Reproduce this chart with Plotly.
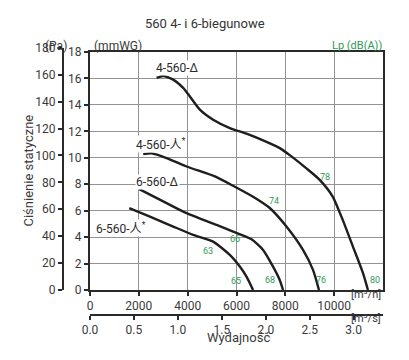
import plotly.graph_objects as go

# ---- data (flow m3/h, static pressure mmWG) ----
q_4d = [2727, 2998, 3407, 3816, 4090, 4499, 5043, 5726, 6409, 7088, 7771, 8180, 8863, 9407, 9939, 10350, 10769, 11178, 11383]
p_4d = [16.04, 16.19, 15.91, 15.28, 14.64, 13.64, 12.88, 12.25, 11.82, 11.31, 10.73, 10.2, 9.2, 8.33, 7.07, 5.3, 3.28, 1.29, 0]

q_4y = [2180, 2524, 3137, 3955, 5182, 5861, 6679, 7362, 8045, 8724, 9133, 9378]
p_4y = [10.28, 10.33, 9.98, 9.34, 8.54, 7.88, 7.05, 6.2, 4.8, 3.03, 1.52, 0]

q_6d = [2016, 3137, 3955, 5182, 5861, 6600, 7088, 7497, 7771, 7906]
p_6d = [7.63, 6.57, 5.81, 4.92, 4.42, 3.85, 3.03, 1.77, 0.76, 0]

q_6y = [1607, 2454, 3407, 4225, 5043, 5726, 6135, 6409, 6680]
p_6y = [6.19, 5.55, 4.80, 4.17, 3.66, 2.65, 1.77, 1.01, 0]

curve_names = ["4-560-Δ", "4-560-人<sup>*</sup>", "6-560-Δ", "6-560-人<sup>*</sup>"]
curve_label_q = [3600, 2904, 2781, 1268]
curve_label_p = [16.8, 11.06, 8.18, 4.7]

lp_values = ["78", "74", "66", "63", "65", "68", "76", "80"]
lp_q = [9612, 7526, 5930, 4844, 5971, 7362, 9480, 11656]
lp_p = [8.54, 6.71, 3.84, 2.95, 0.68, 0.76, 0.76, 0.76]

x_ticks = [0, 2000, 4000, 6000, 8000, 10000]
x2_ticks = [0.0, 0.5, 1.0, 1.5, 2.0, 2.5, 3.0]
y_ticks = [0, 2, 4, 6, 8, 10, 12, 14, 16, 18]
pa_ticks = [0, 20, 40, 60, 80, 100, 120, 140, 160, 180]

FONT = "Roboto, Noto Sans CJK SC, sans-serif"
TXT = "#3a3a3a"
GREEN = "#2e9a55"
GRID = "#939393"
LINE = "#2a2a2a"

fig = go.Figure()
for q, p in [(q_4d, p_4d), (q_4y, p_4y), (q_6d, p_6d), (q_6y, p_6y)]:
    fig.add_trace(go.Scatter(x=q, y=p, mode="lines", line=dict(color="#1e1e1e", width=2.4, shape="spline", smoothing=0.6),
                             hoverinfo="skip", showlegend=False))

# dummy traces so the secondary axes exist
fig.add_trace(go.Scatter(x=[0, 12000 / 3600], y=[None, None], xaxis="x2", yaxis="y", showlegend=False, hoverinfo="skip"))
fig.add_trace(go.Scatter(x=[0, 12000], y=[0, 180], xaxis="x3", yaxis="y2", mode="markers", marker=dict(opacity=0),
                         showlegend=False, hoverinfo="skip"))

W, H = 409, 360


def px_x(x):
    return x / W


def px_y(y):
    return 1 - y / H


xd = [px_x(90), px_x(383)]
yd = [px_y(290), px_y(52)]
yd_pa = [px_y(290), px_y(47.8)]

tickfont = dict(family=FONT, size=12, color=TXT)
common = dict(automargin=False, zeroline=False, tickfont=tickfont, linecolor=LINE, linewidth=2,
              ticks="outside", ticklen=4, tickcolor=LINE, tickwidth=1.5)

fig.update_layout(
    template="none",
    width=W, height=H, margin=dict(l=0, r=0, t=0, b=0, pad=0, autoexpand=False),
    paper_bgcolor="white", plot_bgcolor="rgba(0,0,0,0)",
    font=dict(family=FONT, color=TXT),
    xaxis=dict(domain=xd, range=[0, 12000], tickvals=x_ticks, ticktext=[str(v) for v in x_ticks],
               showgrid=True, gridcolor=GRID, gridwidth=1.2, showline=True, mirror=True, anchor="y", **common),
    xaxis2=dict(overlaying="x", anchor="free", position=px_y(315), range=[0, 12000 / 3600], tickvals=x2_ticks,
                ticktext=["%.1f" % v for v in x2_ticks], showgrid=False, showline=True, side="bottom", **common),
    xaxis3=dict(domain=xd, range=[0, 12000], anchor="y2", visible=False),
    yaxis=dict(domain=yd, range=[0, 18], tickvals=y_ticks, showgrid=True, gridcolor=GRID, gridwidth=1.2,
               showline=True, mirror=True, anchor="x", **common),
    yaxis2=dict(domain=yd_pa, range=[0, 180], tickvals=pa_ticks, anchor="free", position=px_x(63), side="left",
                showgrid=False, showline=True, **common),
    showlegend=False,
)


def note(text, x, y, size=12, color=TXT, **kw):
    return dict(text=text, x=px_x(x), y=px_y(y), xref="paper", yref="paper", showarrow=False,
                font=dict(family=FONT, size=size, color=color), **kw)


ann = [
    note("560 4- i 6-biegunowe", 205, 14, size=13, color="#333"),
    note("(Pa)", 42.5, 37),
    note("(mmWG)", 92, 37),
    note("Lp (dB(A))", 384, 37, size=11, color=GREEN, xanchor="right"),
    note("[m³/h]", 383, 303, size=11),
    note("[m³/s]", 383, 327, size=11),
    note("Wydajność", 238, 347, size=13),
    note("Ciśnienie statyczne", 18, 171, size=13, textangle=-90),
]
for t, q, p in zip(curve_names, curve_label_q, curve_label_p):
    ann.append(dict(text=t, x=q, y=p, xref="x", yref="y", showarrow=False, bgcolor="white", borderpad=0,
                    font=dict(family=FONT, size=12, color="#2a2a2a")))
for t, q, p in zip(lp_values, lp_q, lp_p):
    ann.append(dict(text=t, x=q, y=p, xref="x", yref="y", showarrow=False,
                    font=dict(family=FONT, size=9, color=GREEN)))
fig.update_layout(annotations=ann)

fig.write_html("out.html", config={"displayModeBar": False},
               post_script="document.body.style.margin='0';document.body.style.padding='0';")
